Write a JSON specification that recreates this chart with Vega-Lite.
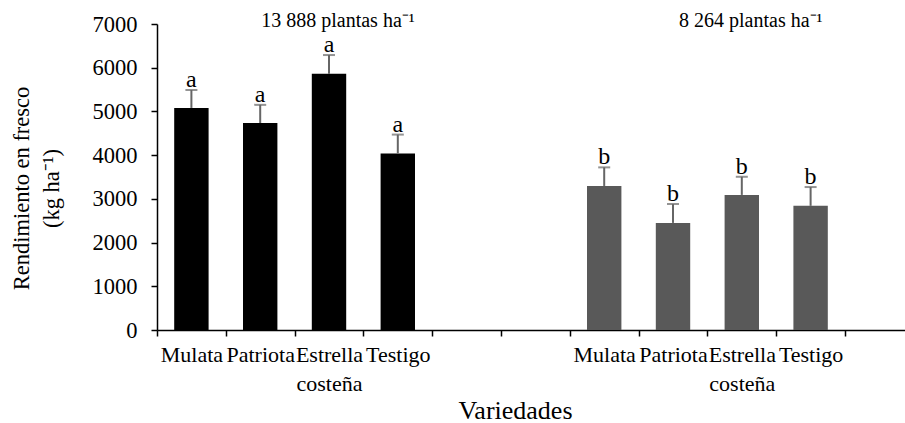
{
  "$schema": "https://vega.github.io/schema/vega-lite/v6.json",
  "width": 748,
  "height": 306,
  "autosize": {"type": "none"},
  "padding": {"left": 157, "top": 24, "right": 0, "bottom": 93},
  "background": "white",
  "config": {
    "view": {"stroke": null},
    "font": "Liberation Serif",
    "text": {"font": "Liberation Serif"},
    "axis": {
      "labelFont": "Liberation Serif",
      "titleFont": "Liberation Serif",
      "labelColor": "black",
      "titleColor": "black",
      "titleFontWeight": "normal",
      "domainColor": "black",
      "tickColor": "black",
      "domainWidth": 1.5,
      "tickWidth": 1.5,
      "tickSize": 6,
      "grid": false
    }
  },
  "datasets": {
    "barras": [
      {"grupo": "13 888 plantas ha⁻¹", "clave": "Mulata_1", "variedad": "Mulata", "rendimiento": 5080, "superior": 5490, "letra": "a"},
      {"grupo": "13 888 plantas ha⁻¹", "clave": "Patriota_1", "variedad": "Patriota", "rendimiento": 4735, "superior": 5150, "letra": "a"},
      {"grupo": "13 888 plantas ha⁻¹", "clave": "Estrella costeña_1", "variedad": "Estrella costeña", "rendimiento": 5860, "superior": 6290, "letra": "a"},
      {"grupo": "13 888 plantas ha⁻¹", "clave": "Testigo_1", "variedad": "Testigo", "rendimiento": 4040, "superior": 4470, "letra": "a"},
      {"grupo": "8 264 plantas ha⁻¹", "clave": "Mulata_2", "variedad": "Mulata", "rendimiento": 3295, "superior": 3720, "letra": "b"},
      {"grupo": "8 264 plantas ha⁻¹", "clave": "Patriota_2", "variedad": "Patriota", "rendimiento": 2450, "superior": 2880, "letra": "b"},
      {"grupo": "8 264 plantas ha⁻¹", "clave": "Estrella costeña_2", "variedad": "Estrella costeña", "rendimiento": 3090, "superior": 3505, "letra": "b"},
      {"grupo": "8 264 plantas ha⁻¹", "clave": "Testigo_2", "variedad": "Testigo", "rendimiento": 2840, "superior": 3270, "letra": "b"}
    ],
    "titulos": [
      {"grupo": "13 888 plantas ha⁻¹", "clave": "Estrella costeña_1", "nivel": 7000},
      {"grupo": "8 264 plantas ha⁻¹", "clave": "Estrella costeña_2", "nivel": 7000}
    ]
  },
  "encoding": {
    "x": {
      "field": "clave",
      "type": "nominal",
      "sort": null,
      "scale": {
        "type": "band",
        "domain": ["Mulata_1", "Patriota_1", "Estrella costeña_1", "Testigo_1", "_a", "_b", "Mulata_2", "Patriota_2", "Estrella costeña_2", "Testigo_2"],
        "paddingInner": 0,
        "paddingOuter": 0.436,
        "align": 0
      },
      "axis": {
        "title": "Variedades",
        "titleFontSize": 26,
        "titleX": 358,
        "titleY": 88,
        "titleBaseline": "alphabetic",
        "labelExpr": "isString(datum.value) ? split(split(datum.value, '_')[0], ' ') : ''",
        "labelFontSize": 22,
        "labelAngle": 0,
        "labelPadding": 8,
        "labelLineHeight": 29,
        "tickBand": "extent",
        "labelOverlap": false
      }
    }
  },
  "layer": [
    {
      "data": {"name": "barras"},
      "mark": {"type": "bar", "width": {"band": 0.5}},
      "encoding": {
        "y": {
          "field": "rendimiento",
          "type": "quantitative",
          "scale": {"domain": [0, 7000], "nice": false},
          "axis": {
            "title": ["Rendimiento en fresco", "(kg ha⁻¹)"],
            "titleFontSize": 22.5,
            "titleLineHeight": 30,
            "titleX": -136,
            "titleY": 164,
            "titleAngle": -90,
            "titleBaseline": "middle",
            "titleAlign": "center",
            "values": [0, 1000, 2000, 3000, 4000, 5000, 6000, 7000],
            "format": "d",
            "labelFontSize": 22.5,
            "labelPadding": 14
          }
        },
        "color": {
          "field": "grupo",
          "type": "nominal",
          "scale": {"domain": ["13 888 plantas ha⁻¹", "8 264 plantas ha⁻¹"], "range": ["#000000", "#595959"]},
          "legend": null
        }
      }
    },
    {
      "data": {"name": "barras"},
      "mark": {"type": "rule", "color": "#666666", "strokeWidth": 2},
      "encoding": {
        "y": {"field": "rendimiento", "type": "quantitative"},
        "y2": {"field": "superior"}
      }
    },
    {
      "data": {"name": "barras"},
      "mark": {"type": "tick", "color": "#666666", "thickness": 2, "size": 12},
      "encoding": {
        "y": {"field": "superior", "type": "quantitative"}
      }
    },
    {
      "data": {"name": "barras"},
      "mark": {"type": "text", "baseline": "alphabetic", "dy": -3, "fontSize": 24, "font": "Liberation Serif", "color": "black"},
      "encoding": {
        "y": {"field": "superior", "type": "quantitative"},
        "text": {"field": "letra"}
      }
    },
    {
      "data": {"name": "titulos"},
      "mark": {"type": "text", "baseline": "alphabetic", "dy": 3, "dx": 9, "fontSize": 20, "font": "Liberation Serif", "color": "black"},
      "encoding": {
        "y": {"field": "nivel", "type": "quantitative"},
        "text": {"field": "grupo"}
      }
    }
  ]
}
